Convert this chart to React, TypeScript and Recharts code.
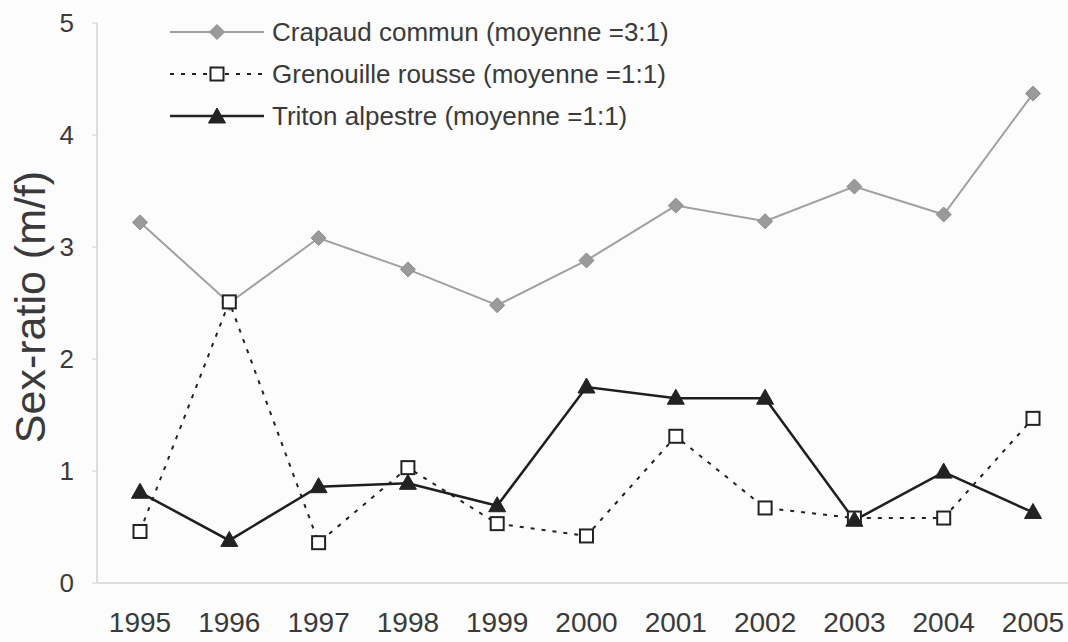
import { LineChart, Line, XAxis, YAxis } from "recharts"

const years = ["1995", "1996", "1997", "1998", "1999", "2000", "2001", "2002", "2003", "2004", "2005"]
const crapaud = [3.22, 2.5, 3.08, 2.8, 2.48, 2.88, 3.37, 3.23, 3.54, 3.29, 4.37]
const grenouille = [0.46, 2.51, 0.36, 1.03, 0.53, 0.42, 1.31, 0.67, 0.58, 0.58, 1.47]
const triton = [0.81, 0.38, 0.86, 0.89, 0.69, 1.75, 1.65, 1.65, 0.56, 0.99, 0.63]
const yTicks = [0, 1, 2, 3, 4, 5]

const legendItems = [
  { key: "crapaud", label: "Crapaud commun (moyenne =3:1)" },
  { key: "grenouille", label: "Grenouille rousse (moyenne =1:1)" },
  { key: "triton", label: "Triton alpestre (moyenne =1:1)" },
]

const data = years.map((year, i) => ({
  year,
  crapaud: crapaud[i],
  grenouille: grenouille[i],
  triton: triton[i],
}))

const FONT = "'Liberation Sans', Arial, sans-serif"
const TEXT = "#3a3a3a"

function Diamond({ cx, cy }: any) {
  if (cx == null || cy == null) return null
  const r = 7.5
  return (
    <path
      d={`M${cx},${cy - r}L${cx + r},${cy}L${cx},${cy + r}L${cx - r},${cy}Z`}
      fill="#9a9a9a"
      stroke="#8c8c8c"
      strokeWidth={1}
    />
  )
}

function Square({ cx, cy }: any) {
  if (cx == null || cy == null) return null
  const h = 6.5
  return (
    <rect x={cx - h} y={cy - h} width={h * 2} height={h * 2} fill="#fff" stroke="#222" strokeWidth={2} />
  )
}

function Triangle({ cx, cy }: any) {
  if (cx == null || cy == null) return null
  return (
    <path
      d={`M${cx},${cy - 9}L${cx + 8.5},${cy + 6}L${cx - 8.5},${cy + 6}Z`}
      fill="#222"
      stroke="#222"
      strokeWidth={1}
    />
  )
}

function YLabel() {
  return (
    <text
      x={30}
      y={307}
      transform="rotate(-90 30 307)"
      textAnchor="middle"
      dominantBaseline="central"
      fontSize={43}
      fill={TEXT}
      fontFamily={FONT}
    >
      Sex-ratio (m/f)
    </text>
  )
}

function LegendIcon({ kind }: { kind: string }) {
  const w = 94
  const c = 47
  return (
    <svg width={w} height={24} style={{ display: "block" }}>
      {kind === "crapaud" && (
        <>
          <line x1={0} y1={12} x2={w} y2={12} stroke="#a0a0a0" strokeWidth={2} />
          <Diamond cx={c} cy={12} />
        </>
      )}
      {kind === "grenouille" && (
        <>
          <line x1={0} y1={12} x2={w} y2={12} stroke="#222" strokeWidth={2} strokeDasharray="4 7" />
          <Square cx={c} cy={12} />
        </>
      )}
      {kind === "triton" && (
        <>
          <line x1={0} y1={12} x2={w} y2={12} stroke="#222" strokeWidth={2.5} />
          <Triangle cx={c} cy={13} />
        </>
      )}
    </svg>
  )
}

function ChartLegend() {
  return (
    <div
      style={{
        position: "absolute",
        left: 170,
        top: 11,
        fontFamily: FONT,
        fontSize: 26,
        color: TEXT,
      }}
    >
      {legendItems.map((it) => (
        <div key={it.key} style={{ display: "flex", alignItems: "center", height: 42 }}>
          <LegendIcon kind={it.key} />
          <span style={{ marginLeft: 8, whiteSpace: "nowrap" }}>{it.label}</span>
        </div>
      ))}
    </div>
  )
}

export default function App() {
  return (
    <div style={{ position: "absolute", left: 0, top: 0, width: 1068, height: 642, background: "#fcfcfc" }}>
      <LineChart width={1068} height={642} data={data} margin={{ top: 23, right: 0, bottom: 0, left: 0 }}>
        <XAxis
          dataKey="year"
          padding={{ left: 43, right: 35 }}
          height={59}
          tickLine={false}
          tickSize={0}
          tickMargin={29}
          axisLine={{ stroke: "#d4d4d4", strokeWidth: 1.5 }}
          tick={{ fontSize: 28, fill: TEXT, fontFamily: FONT }}
          interval={0}
        />
        <YAxis
          width={97}
          domain={[0, 5]}
          ticks={yTicks}
          tickSize={5}
          tickMargin={18}
          tickLine={{ stroke: "#d4d4d4" }}
          axisLine={{ stroke: "#d4d4d4", strokeWidth: 1.5 }}
          tick={{ fontSize: 26, fill: TEXT, fontFamily: FONT }}
          label={<YLabel />}
        />
        <Line
          dataKey="crapaud"
          stroke="#a0a0a0"
          strokeWidth={2}
          dot={<Diamond />}
          isAnimationActive={false}
        />
        <Line
          dataKey="grenouille"
          stroke="#222"
          strokeWidth={2}
          strokeDasharray="4 7"
          dot={<Square />}
          isAnimationActive={false}
        />
        <Line
          dataKey="triton"
          stroke="#1e1e1e"
          strokeWidth={2.5}
          dot={<Triangle />}
          isAnimationActive={false}
        />
      </LineChart>
      <ChartLegend />
    </div>
  )
}
